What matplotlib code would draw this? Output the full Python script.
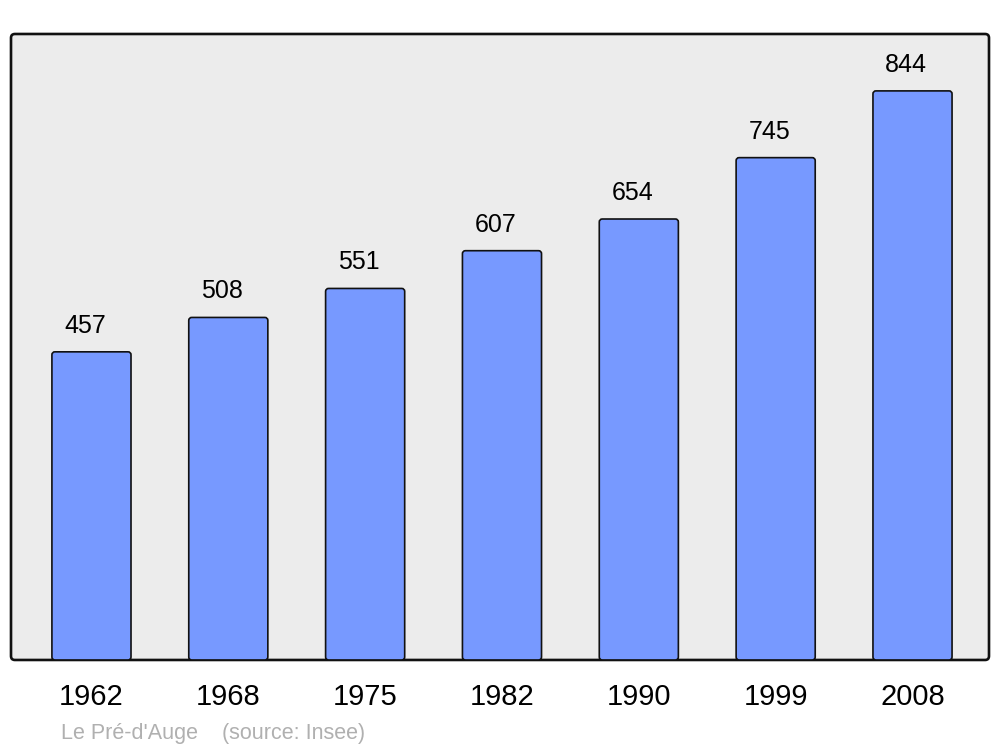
import matplotlib
matplotlib.use("Agg")
import matplotlib.pyplot as plt
from matplotlib.patches import FancyBboxPatch

years = ["1962", "1968", "1975", "1982", "1990", "1999", "2008"]
population = [457, 508, 551, 607, 654, 745, 844]
caption = "Le Pré-d'Auge    (source: Insee)"

plt.rcParams['font.family'] = ['Liberation Sans', 'DejaVu Sans']

fig = plt.figure(figsize=(10, 7.47), dpi=100)
ax = fig.add_axes([0.011, 0.1165, 0.978, 0.838])
ax.set_facecolor('none')

xs = list(range(len(years)))
ax.set_xlim(-0.588, 6.559)
ax.set_ylim(0, max(population) * 1.1)

# background with rounded frame
frame = FancyBboxPatch((0, 0), 1, 1, boxstyle="round,pad=0,rounding_size=0.004",
                       transform=ax.transAxes, facecolor='#ececec', edgecolor='#111111',
                       linewidth=1.9, clip_on=False, zorder=0, mutation_aspect=978/626)
ax.add_patch(frame)
for s in ax.spines.values():
    s.set_visible(False)

bars = ax.bar(xs, population, width=0.578, color='none', edgecolor='none')
# rounded bars in data coords
px_x = 136.8
px_y = 626 / (max(population) * 1.1)
for b in bars:
    x0, y0 = b.get_x(), b.get_y()
    w, h = b.get_width(), b.get_height()
    p = FancyBboxPatch((x0, y0), w, h,
                       boxstyle="round,pad=0,rounding_size=%f" % (3 / px_x),
                       mutation_aspect=(1 / px_y) / (1 / px_x),
                       facecolor='#7799ff', edgecolor='#111111', linewidth=1.2, zorder=2)
    ax.add_patch(p)

for x, v in zip(xs, population):
    ax.annotate(str(v), (x, v), xytext=(-4.5, 13.7), textcoords='offset points',
                ha='center', va='baseline', fontsize=18, color='#000000')

ax.set_xticks(xs)
ax.set_xticklabels(years, fontsize=21)
ax.tick_params(axis='x', length=0, pad=16.5)
ax.set_yticks([])

fig.text(0.061, 1 - 733 / 747, caption, fontsize=15.5, color='#b0b0b0', va='center', ha='left')

fig.savefig('out.png', dpi=100, facecolor='white')
